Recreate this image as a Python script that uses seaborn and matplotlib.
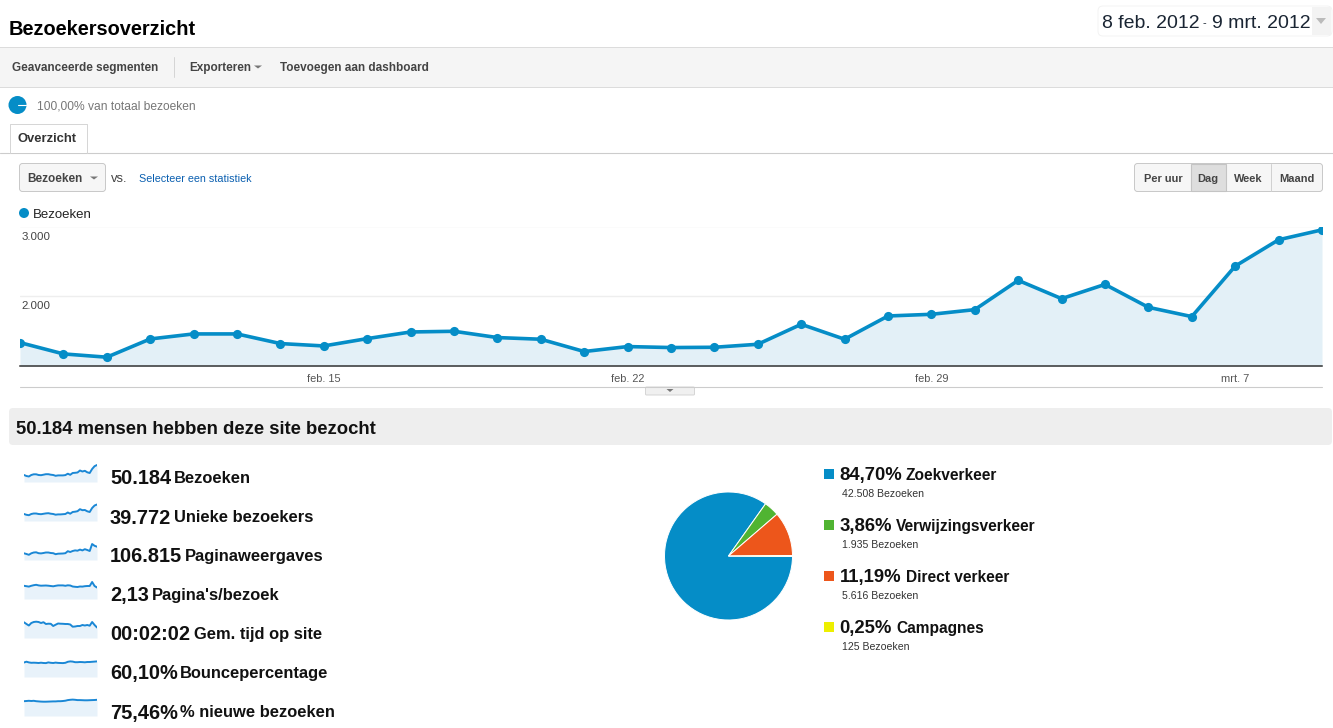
import matplotlib
matplotlib.use('Agg')
import matplotlib.pyplot as plt
from matplotlib.patches import Rectangle, FancyBboxPatch, Circle, Polygon
from matplotlib.transforms import ScaledTranslation
import pandas as pd
import seaborn as sns

sns.set_theme(style='white')
plt.rcParams['font.family'] = ['Liberation Sans', 'DejaVu Sans']

W, H = 1333, 728
BLUE = '#058dc7'

# data
days = pd.date_range('2012-02-08', '2012-03-09')
bezoeken = [1338, 1176, 1129, 1390, 1462, 1462, 1324, 1290, 1395, 1490, 1500, 1410, 1386, 1210, 1281, 1267,
            1271, 1314, 1600, 1386, 1719, 1743, 1810, 2229, 1967, 2171, 1843, 1710, 2433, 2810, 2952]
tick_days = ['2012-02-15', '2012-02-22', '2012-02-29', '2012-03-07']
tick_labels = ['feb. 15', 'feb. 22', 'feb. 29', 'mrt. 7']
y_ticks = [2000, 3000]
y_tick_labels = ['2.000', '3.000']

metric_values = ['50.184', '39.772', '106.815', '2,13', '00:02:02', '60,10%', '75,46%']
metric_names = ['Bezoeken', 'Unieke bezoekers', 'Paginaweergaves', "Pagina's/bezoek",
                'Gem. tijd op site', 'Bouncepercentage', '% nieuwe bezoeken']

# sparklines, height of the line above the bottom of its fill (pixels)
spark_bezoeken = [7, 6, 5.5, 7, 7.7, 7.7, 7, 6.8, 7.3, 7.8, 7.8, 7.3, 7, 6.2, 6.6, 6.6,
                  6.6, 6.9, 8.3, 7.2, 9, 9.2, 9.5, 11.5, 10.5, 11.2, 9.7, 9, 13, 15.8, 17]
spark_uniek = [7, 6.2, 5.8, 7, 7.5, 7.5, 7, 6.8, 7.2, 7.6, 7.8, 7.3, 7, 6.3, 6.6, 6.6,
               6.8, 7, 8.5, 7.3, 9, 9.3, 9.8, 11.8, 10.8, 11, 9.7, 9, 13, 15.5, 16.5]
spark_pagina = [6.7, 6, 5.2, 6.7, 7.5, 7.7, 6.8, 6.6, 7, 7.5, 7.5, 7, 6.8, 5.8, 6.3, 6.4,
                6.5, 6.8, 8.8, 8, 9, 9.6, 9.3, 10.4, 9.6, 10.8, 10, 9, 16, 14.2, 13.3]
spark_per_bezoek = [13.2, 12.8, 12.4, 13.2, 13.8, 14.2, 13.6, 13.3, 13.4, 13.5, 13.3, 13, 12.7, 13.2, 13.6, 13.6,
                    13.6, 13.2, 13.7, 13.5, 12.5, 12.2, 12, 12.5, 12.4, 12.8, 13, 13, 17, 13, 11.5]
spark_tijd = [15.7, 14, 12.5, 15, 16, 16.3, 16, 15, 15.8, 14, 14.3, 14.2, 12, 13.3, 14.5, 14.3,
              14.2, 14, 14, 13.5, 11.3, 11.5, 12, 12, 13, 12.5, 13, 12.3, 16, 13, 10.5]
spark_bounce = [14.5, 15.3, 14.6, 14.2, 14.3, 14.2, 14, 14.3, 14, 13.9, 14.6, 14.2, 14, 14.4, 14.1, 14,
                13.9, 14.2, 15.2, 15.6, 15.4, 14.8, 14.8, 15, 14.9, 14.7, 15, 15, 15.2, 15.4, 15.6]
spark_nieuw = [14.8, 15, 15.2, 15, 15.2, 14.8, 14.6, 14.4, 14.3, 14.3, 14.4, 14.5, 14.6, 14.6, 14.8, 14.8,
               15, 15.3, 15.9, 16.2, 16.4, 16.2, 15.9, 15.9, 15.8, 15.7, 15.7, 15.8, 15.9, 16, 16.2]
sparks = [spark_bezoeken, spark_uniek, spark_pagina, spark_per_bezoek, spark_tijd, spark_bounce, spark_nieuw]

traffic_shares = [84.70, 3.86, 11.19, 0.25]
traffic_pct = ['84,70%', '3,86%', '11,19%', '0,25%']
traffic_names = ['Zoekverkeer', 'Verwijzingsverkeer', 'Direct verkeer', 'Campagnes']
traffic_counts = ['42.508 Bezoeken', '1.935 Bezoeken', '5.616 Bezoeken', '125 Bezoeken']
traffic_colors = sns.color_palette(['#058dc7', '#50b432', '#ed561b', '#edef00'])


def px(size):
    return size * 72 / 100


def axes_px(left, top, right, bottom, **kw):
    return fig.add_axes([left / W, 1 - bottom / H, (right - left) / W, (bottom - top) / H], **kw)


def label(x, y, s, size=12, color='#222222', weight='normal', ha='left'):
    ui.text(x, y, s, fontsize=px(size), color=color, fontweight=weight, ha=ha, va='center_baseline')


def arrow(x, y, w=4, h=4, color='#777777'):
    ui.add_patch(Polygon([(x - w, y - h / 2), (x + w, y - h / 2), (x, y + h / 2)], color=color, lw=0))


def box(x0, y0, x1, y1, face, edge='none', r=3, lw=0.7):
    ui.add_patch(FancyBboxPatch((x0, y0), x1 - x0, y1 - y0, boxstyle='round,pad=0,rounding_size=%s' % r,
                                fc=face, ec=edge, lw=lw))


fig = plt.figure(figsize=(W / 100, H / 100), dpi=100, facecolor='white')

# page furniture in pixel coordinates
ui = axes_px(0, 0, W, H)
ui.set_xlim(0, W)
ui.set_ylim(H, 0)
ui.axis('off')

label(9, 27.5, 'Bezoekersoverzicht', size=20, color='#000000', weight='bold')
box(1098, 6, 1332, 36, '#ffffff', '#f3f3f3', r=5)
ui.add_patch(Rectangle((1312, 7), 19, 28, color='#f3f3f3', lw=0))
label(1102, 21, '8 feb. 2012', size=19.5, color='#1a2533')
label(1203, 22, '-', size=11, color='#1a2533')
label(1212, 21, '9 mrt. 2012', size=19.5, color='#1a2533')
arrow(1321, 21, w=5, h=6, color='#bbbbbb')

ui.add_patch(Rectangle((-2, 46.5), W + 4, 40.5, fc='#f5f5f5', ec='#dcdcdc', lw=0.7))
label(12, 67, 'Geavanceerde segmenten', size=11.8, color='#444444', weight='bold')
ui.plot([173.5, 173.5], [57, 77], color='#d5d5d5', lw=0.7)
label(189, 67, 'Exporteren', size=11.8, color='#444444', weight='bold')
arrow(258, 67, w=4, h=3)
label(280, 67, 'Toevoegen aan dashboard', size=11.8, color='#444444', weight='bold')

ui.add_patch(Circle((17.5, 105), 9, color=BLUE, lw=0))
ui.plot([18, 26], [105, 105], color='white', lw=0.8)
label(37, 105, '100,00% van totaal bezoeken', size=12, color='#777777')

ui.plot([0, W], [152.5, 152.5], color='#cccccc', lw=0.8)
ui.add_patch(Rectangle((9, 123), 77, 30, fc='white', ec='none', zorder=2))
ui.plot([9.5, 9.5, 86.5, 86.5], [152.5, 123.5, 123.5, 152.5], color='#d5d5d5', lw=0.7, zorder=3)
ui.text(18, 138, 'Overzicht', fontsize=px(13), color='#333333', fontweight='bold', va='center_baseline', zorder=3)

box(19.5, 163.5, 105.5, 191.5, '#f6f6f6', '#c8c8c8')
label(27, 178, 'Bezoeken', size=11.8, color='#444444', weight='bold')
arrow(94, 178, w=4, h=3)
label(111, 178, 'vs.', size=13, color='#444444')
label(139, 178, 'Selecteer een statistiek', size=10.8, color='#0a5fb0')

box(1134.5, 163.5, 1322.5, 191.5, '#f6f6f6', '#c8c8c8')
ui.add_patch(Rectangle((1191, 164), 35, 27, fc='#dedede', ec='#c4c4c4', lw=0.8))
ui.plot([1271, 1271], [164, 191], color='#d0d0d0', lw=0.7)
for cx, s in zip([1163, 1208, 1248, 1297], ['Per uur', 'Dag', 'Week', 'Maand']):
    label(cx, 178, s, size=11, color='#444444', weight='bold', ha='center')

ui.add_patch(Circle((24, 213), 5, color=BLUE, lw=0))
label(33, 213, 'Bezoeken', size=13.3, color='#222222')

ui.plot([20, 1322], [387, 387], color='#cccccc', lw=0.8)
box(645.5, 387, 694.5, 395, '#f0f0f0', '#d5d5d5', r=1)
arrow(670, 390.5, w=3.5, h=3)

box(9, 408, 1332, 445, '#eeeeee', r=4)
label(16, 427, '50.184 mensen hebben deze site bezocht', size=18.5, color='#111111', weight='bold')

# main chart
ax = axes_px(20, 226.5, 1322, 365.5)
ax.patch.set_alpha(0)
visits = pd.DataFrame({'dag': days, 'bezoeken': bezoeken})
ax.fill_between(visits['dag'], visits['bezoeken'], 1000, color='#e3f0f7', lw=0)
sns.lineplot(data=visits, x='dag', y='bezoeken', ax=ax, color=BLUE, lw=2.6, marker='o', markersize=6.6,
             markeredgewidth=0)
ax.set_xlim(days[0], days[-1])
ax.set_ylim(1010, 3000)
ax.set_xlabel('')
ax.set_ylabel('')
ax.set_xticks(pd.to_datetime(tick_days))
ax.set_xticklabels(tick_labels, fontsize=px(11), color='#555555')
ax.set_yticks(y_ticks)
ax.set_yticklabels(y_tick_labels, fontsize=px(11.5), color='#444444')
ax.tick_params(axis='x', length=0, pad=6)
ax.tick_params(axis='y', length=0, direction='in', pad=-2)
for t in ax.get_yticklabels():
    t.set_ha('left')
    t.set_va('top')
    t.set_transform(t.get_transform() + ScaledTranslation(-0.01, -0.05, fig.dpi_scale_trans))
ax.yaxis.grid(True, color='#eeeeee', lw=1)
ax.set_axisbelow(True)
sns.despine(ax=ax, left=True, right=True, top=True)
ax.spines['bottom'].set_color('#333333')
ax.spines['bottom'].set_linewidth(1.1)

# metric rows
row_y = [477, 516, 555, 594, 633, 672, 711]
name_x = [174, 174, 185, 152, 194, 180, 180]
for i in range(len(sparks)):
    sp = axes_px(24, row_y[i] - 15, 97, row_y[i] + 5)
    sp.axis('off')
    df = pd.DataFrame({'dag': days, 'waarde': sparks[i]})
    sp.fill_between(df['dag'], df['waarde'], 0, color='#e8f2fa', lw=0)
    sns.lineplot(data=df, x='dag', y='waarde', ax=sp, color='#1a87d5', lw=1.4)
    sp.set_xlim(days[0], days[-1])
    sp.set_ylim(0, 20)
    label(110, row_y[i], metric_values[i], size=20, color='#111111', weight='bold')
    label(name_x[i], row_y[i], metric_names[i], size=16.5, color='#111111', weight='bold')

# traffic pie
pie = axes_px(663.5, 491, 793.5, 621)
pie.pie(traffic_shares, colors=traffic_colors, startangle=-0.45, counterclock=False, radius=64 / 65,
        wedgeprops={'edgecolor': 'white', 'linewidth': 0.7})
pie.set_xlim(-1, 1)
pie.set_ylim(-1, 1)

leg_y = [474, 525, 576, 627]
leg_name_x = [905, 896, 906, 896]
for i in range(len(traffic_names)):
    ui.add_patch(Rectangle((824, leg_y[i] - 5), 10, 10, color=traffic_colors[i], lw=0))
    label(839.5, leg_y[i] - 0.5, traffic_pct[i], size=18.5, color='#111111', weight='bold')
    label(leg_name_x[i], leg_y[i] - 0.5, traffic_names[i], size=15.5, color='#111111', weight='bold')
    label(842.5, leg_y[i] + 19, traffic_counts[i], size=10.5, color='#333333')

fig.savefig('out.png', dpi=100)
